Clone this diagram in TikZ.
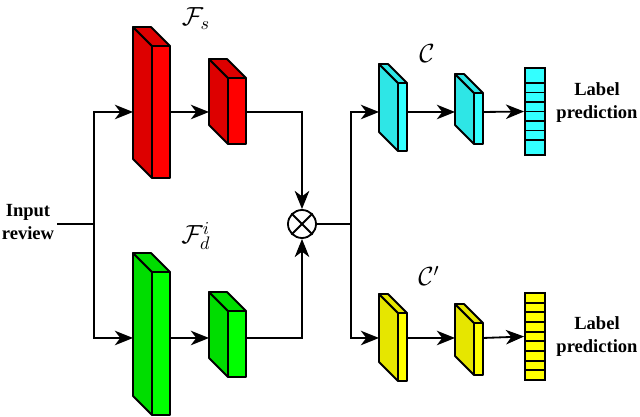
\documentclass[tikz,border=0pt]{standalone}
\usepackage[no-math]{fontspec}
\setmainfont{Liberation Serif}
\usetikzlibrary{arrows.meta}

\definecolor{redfront}{HTML}{FF0000}
\definecolor{redside}{HTML}{DD0000}
\definecolor{greenfront}{HTML}{00FF00}
\definecolor{greenside}{HTML}{00DD00}
\definecolor{cyanfront}{HTML}{33FFFF}
\definecolor{cyanside}{HTML}{2EE6E6}
\definecolor{yellowfront}{HTML}{FFFF00}
\definecolor{yellowside}{HTML}{E6E600}

\tikzset{
	conn/.style={line width=1pt, -{Stealth[length=10pt,width=8pt,inset=3pt]}},
	line/.style={line width=1pt},
	blockline/.style={line width=1pt, line join=round},
	vec/.style={draw, line width=1pt, minimum width=11pt, inner sep=0pt},
	lbl/.style={font=\bfseries\fontsize{10.2}{12.6}\selectfont, align=center},
}

% name, x1, x2, ytop, ybot, yarrow, front, side
\newcommand{\cuboid}[8]{
	\filldraw[blockline, fill=#8] (#2,#4) -- (#2-19,#4-19) -- (#2-19,#5-19) -- (#2,#5) -- cycle;
	\filldraw[blockline, fill=#8] (#2,#4) -- (#2-19,#4-19) -- (#3-19,#4-19) -- (#3,#4) -- cycle;
	\filldraw[blockline, fill=#7] (#2,#4) rectangle (#3,#5);
	\coordinate (#1-w) at (#2-19,#6);
	\coordinate (#1-e) at (#3,#6);
}

\begin{document}
\begin{tikzpicture}[x=0.55pt, y=-0.55pt]
	\useasboundingbox (0,0) rectangle (640,417);

	\cuboid{fs1}{152}{170}{46}{178}{112}{redfront}{redside}
	\cuboid{fs2}{228}{246}{78}{144}{112}{redfront}{redside}
	\cuboid{fd1}{152}{170}{272}{415}{338}{greenfront}{greenside}
	\cuboid{fd2}{228}{246}{311}{377}{338}{greenfront}{greenside}
	\cuboid{c1}{398}{407}{83}{151}{112}{cyanfront}{cyanside}
	\cuboid{c2}{474}{483}{93}{144}{112}{cyanfront}{cyanside}
	\cuboid{cp1}{398}{407}{313}{381}{338}{yellowfront}{yellowside}
	\cuboid{cp2}{474}{483}{323}{375}{338}{yellowfront}{yellowside}

	\node[vec, fill=cyanfront, minimum height=47.9pt] (out1) at (535,111.5) {};
	\foreach \y in {83,92.5,102,111.5,121,130.5,140} {
		\draw[line] (525,\y) -- (545,\y);
	}
	\node[vec, fill=yellowfront, minimum height=47.9pt] (out2) at (535,336.5) {};
	\foreach \k in {1,...,8} {
		\draw[line] (525,293+\k*9.67) -- (545,293+\k*9.67);
	}

	\node[draw, circle, line width=1pt, minimum size=15.4pt, inner sep=0pt] (mul) at (302,224) {};
	\draw[line] (mul.45) -- (mul.225);
	\draw[line] (mul.135) -- (mul.315);

	\node[lbl] (inp) at (28,222) {Input\\review};
	\coordinate (split) at (94,224);
	\coordinate (split2) at (351,224);

	\draw[line] (57,224) -- (split);
	\draw[conn] (split) |- (fs1-w);
	\draw[conn] (split) |- (fd1-w);
	\draw[conn] (fs1-e) -- (fs2-w);
	\draw[conn] (fd1-e) -- (fd2-w);
	\draw[conn] (fs2-e) -| (mul.north);
	\draw[conn] (fd2-e) -| (mul.south);
	\draw[line] (mul.east) -- (split2);
	\draw[conn] (split2) |- (c1-w);
	\draw[conn] (split2) |- (cp1-w);
	\draw[conn] (c1-e) -- (c2-w);
	\draw[conn] (cp1-e) -- (cp2-w);
	\draw[conn] (c2-e) -- (out1.west);
	\draw[conn] (cp2-e) -- (out2.west);

	\node (fslbl) at (196,19) {\Large $\mathcal{F}_s$};
	\node (fdlbl) at (196,236) {\Large $\mathcal{F}_d^i$};
	\node (clbl) at (427,54) {\Large $\mathcal{C}$};
	\node (cplbl) at (429,276) {\Large $\mathcal{C}'$};
	\node[lbl] (pred1) at (597,103) {Label\\prediction};
	\node[lbl] (pred2) at (597,337) {Label\\prediction};
\end{tikzpicture}
\end{document}
